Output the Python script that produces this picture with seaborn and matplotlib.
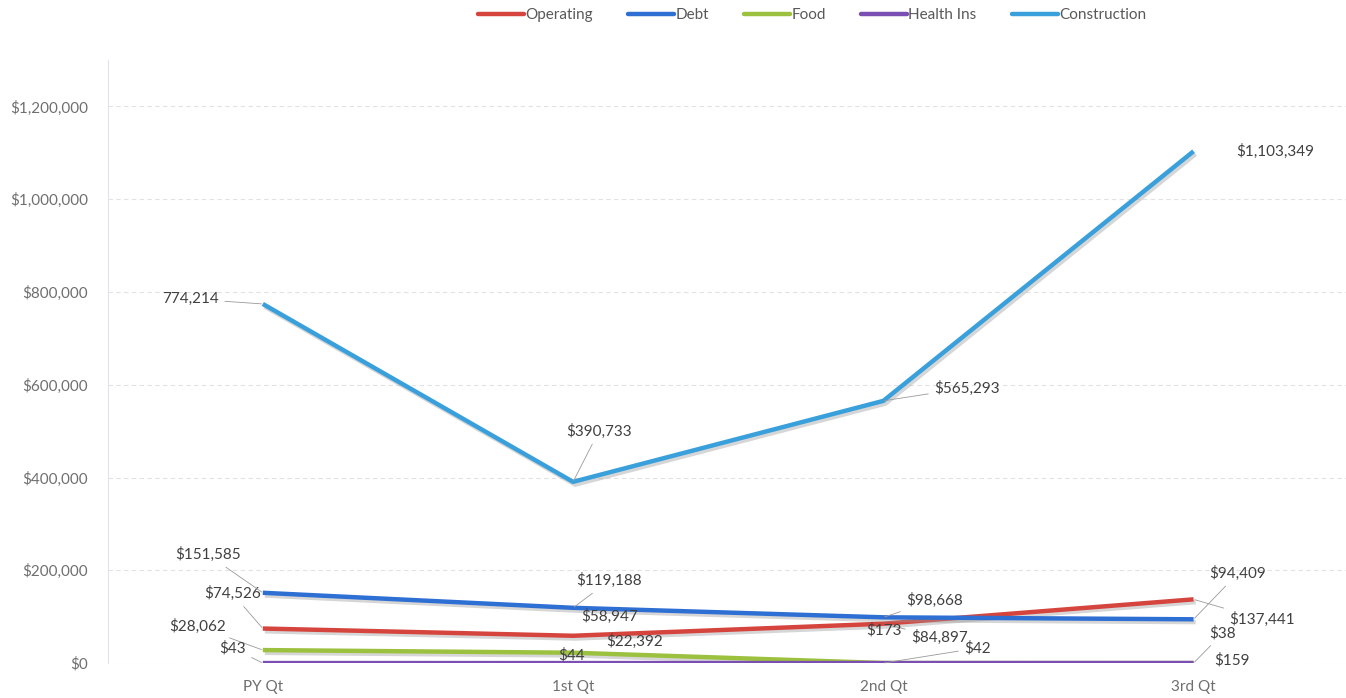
import pandas as pd
import seaborn as sns
import matplotlib.pyplot as plt
import matplotlib.patheffects as pe

# Chart data
quarters = ['PY Qt', '1st Qt', '2nd Qt', '3rd Qt']
operating = [74526, 58947, 84897, 137441]
debt = [151585, 119188, 98668, 94409]
food = [28062, 22392, 173, 38]
health_ins = [43, 44, 42, 159]
construction = [774214, 390733, 565293, 1103349]

series_names = ['Operating', 'Debt', 'Food', 'Health Ins', 'Construction']
series_values = [operating, debt, food, health_ins, construction]
colors = ['#d5443d', '#2e6fd3', '#9cc13f', '#7a4eb2', '#3aa0dc']
y_ticks = [0, 200000, 400000, 600000, 800000, 1000000, 1200000]

# Long form table for seaborn
df = pd.DataFrame({
    'quarter': quarters * len(series_names),
    'series': [s for s in series_names for _ in quarters],
    'value': [v for vals in series_values for v in vals],
})

sns.set_theme(style='white')
plt.rcParams['font.family'] = ['Lato', 'DejaVu Sans']

fig = plt.figure(figsize=(13.46, 6.98), dpi=100)
ax = fig.add_axes([0.080, 0.050, 0.922, 0.864])

sns.lineplot(data=df, x='quarter', y='value', hue='series', hue_order=series_names,
             palette=dict(zip(series_names, colors)), sort=False, lw=3.2,
             legend=False, ax=ax)
for line in ax.get_lines():
    line.set_path_effects([pe.SimpleLineShadow(offset=(1.5, -2), shadow_color='#999999', alpha=0.4),
                           pe.Normal()])
    line.set_solid_capstyle('butt')

ax.set_xlim(-0.5, 3.5)
ax.set_ylim(0, 1300000)
ax.set_yticks(y_ticks)
ax.set_yticklabels([f'${v:,}' for v in y_ticks])
ax.set_xlabel('')
ax.set_ylabel('')
ax.tick_params(axis='y', length=0, pad=14, labelsize=11, labelcolor='#6f6f6f')
ax.tick_params(axis='x', length=0, pad=12, labelsize=11, labelcolor='#6f6f6f')
ax.grid(axis='y', color='#e2e2e2', lw=0.8, ls=(0, (4, 3)))
for side in ['top', 'right', 'bottom']:
    ax.spines[side].set_visible(False)
ax.spines['left'].set_color('#dde3f0')
ax.spines['left'].set_linewidth(0.8)

# Data label offsets (pixels), alignment and leader line flag per point
label_pos = {
    'Operating': [(-2, 35, 'right', True), (37, 19, 'center', False), (28, -14, 'left', True), (36, -20, 'left', True)],
    'Debt': [(-22, 38, 'right', True), (36, 27, 'center', True), (23, 17, 'left', True), (16, 46, 'left', True)],
    'Food': [(-37, 24, 'right', True), (62, 11, 'center', False), (1, 33, 'center', False), (16, 30, 'left', True)],
    'Health Ins': [(-17, 15, 'right', True), (-2, 8, 'center', False), (81, 15, 'left', True), (21, 3, 'left', False)],
    'Construction': [(-44, 5, 'right', True), (26, 51, 'center', True), (51, 13, 'left', True), (43, 0, 'left', False)],
}

for name, vals in zip(series_names, series_values):
    for i, v in enumerate(vals):
        dx, dy, ha, leader = label_pos[name][i]
        txt = f'{v:,}' if (name == 'Construction' and i == 0) else f'${v:,}'
        ax.annotate(txt, xy=(i, v), xytext=(dx, dy), textcoords='offset pixels',
                    ha=ha, va='center', fontsize=11, color='#404040',
                    arrowprops=dict(arrowstyle='-', color='#9a9a9a', lw=0.6,
                                    shrinkA=2, shrinkB=1) if leader else None)

handles = [plt.Line2D([], [], color=c, lw=3.2) for c in colors]
fig.legend(handles, series_names, loc='center', bbox_to_anchor=(812 / 1346, 1 - 15 / 698),
           ncol=5, frameon=False, fontsize=11, handlelength=3.0, handletextpad=0.1,
           columnspacing=2.3, labelcolor='#595959')

fig.savefig('out.png', dpi=100)
